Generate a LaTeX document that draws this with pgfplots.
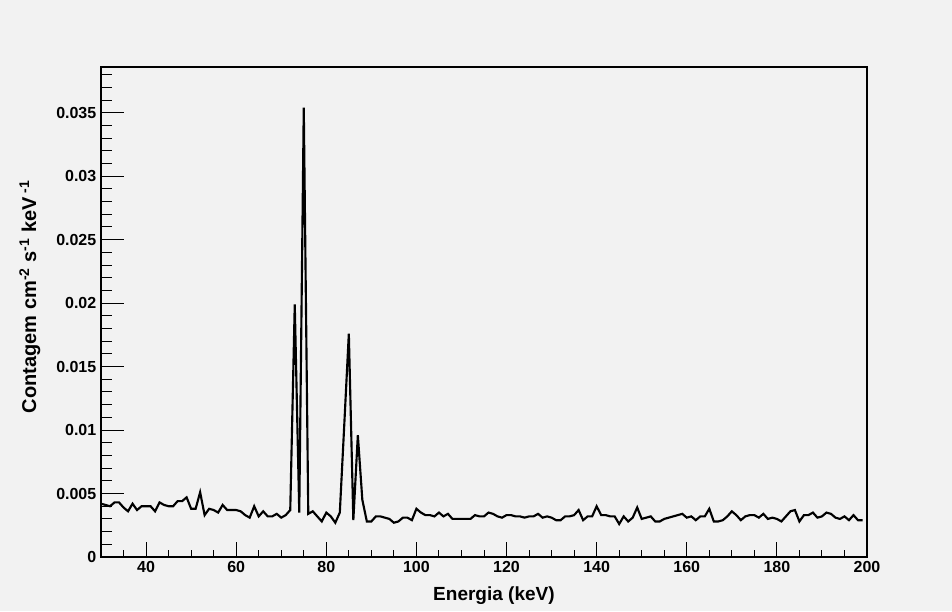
\documentclass[border=0pt]{standalone}
\usepackage{fontspec}
\setmainfont{Liberation Sans}
\usepackage{pgfplots}
\pgfplotsset{compat=1.18}
\usepackage{pgfplotstable}
\definecolor{bggray}{RGB}{242,242,242}

\pgfplotstableread{
x y
30 0.0042
31 0.0041
32 0.0040
33 0.0043
34 0.0043
35 0.0039
36 0.0036
37 0.0042
38 0.0037
39 0.0040
40 0.0040
41 0.0040
42 0.0036
43 0.0043
44 0.0041
45 0.0040
46 0.0040
47 0.0044
48 0.0044
49 0.0047
50 0.0038
51 0.0038
52 0.0051
53 0.0033
54 0.0038
55 0.0037
56 0.0035
57 0.0041
58 0.0037
59 0.0037
60 0.0037
61 0.0036
62 0.0033
63 0.0031
64 0.0040
65 0.0032
66 0.0036
67 0.0032
68 0.0032
69 0.0034
70 0.0031
71 0.0033
72 0.0037
73 0.0199
74 0.0035
75 0.0354
76 0.0034
77 0.0036
78 0.0032
79 0.0028
80 0.0035
81 0.0032
82 0.0027
83 0.0035
84 0.0105
85 0.0176
86 0.0029
87 0.0096
88 0.0045
89 0.0028
90 0.0028
91 0.0032
92 0.0032
93 0.0031
94 0.0030
95 0.0027
96 0.0028
97 0.0031
98 0.0031
99 0.0029
100 0.0038
101 0.0035
102 0.0033
103 0.0033
104 0.0032
105 0.0035
106 0.0032
107 0.0034
108 0.0030
109 0.0030
110 0.0030
111 0.0030
112 0.0030
113 0.0033
114 0.0032
115 0.0032
116 0.0035
117 0.0034
118 0.0032
119 0.0031
120 0.0033
121 0.0033
122 0.0032
123 0.0032
124 0.0031
125 0.0032
126 0.0032
127 0.0034
128 0.0031
129 0.0032
130 0.0031
131 0.0029
132 0.0029
133 0.0032
134 0.0032
135 0.0033
136 0.0037
137 0.0029
138 0.0032
139 0.0032
140 0.0040
141 0.0033
142 0.0033
143 0.0032
144 0.0032
145 0.0026
146 0.0032
147 0.0028
148 0.0031
149 0.0039
150 0.0030
151 0.0031
152 0.0032
153 0.0028
154 0.0028
155 0.0030
156 0.0031
157 0.0032
158 0.0033
159 0.0034
160 0.0031
161 0.0032
162 0.0029
163 0.0032
164 0.0032
165 0.0038
166 0.0028
167 0.0028
168 0.0029
169 0.0032
170 0.0036
171 0.0033
172 0.0029
173 0.0032
174 0.0033
175 0.0033
176 0.0031
177 0.0034
178 0.0030
179 0.0031
180 0.0030
181 0.0028
182 0.0032
183 0.0036
184 0.0037
185 0.0028
186 0.0033
187 0.0033
188 0.0035
189 0.0031
190 0.0032
191 0.0035
192 0.0034
193 0.0031
194 0.0030
195 0.0032
196 0.0029
197 0.0033
198 0.0029
199 0.0029
}\spectrum

\begin{document}
\begin{tikzpicture}
\fill[bggray] (0,0) rectangle (714pt,458.25pt);
\begin{axis}[
  at={(75.75pt,40.5pt)}, anchor=south west,
  scale only axis, width=574.5pt, height=367.5pt,
  xmin=30, xmax=200, ymin=0, ymax=0.0386,
  axis line style={black, line width=0.9pt},
  tick pos=left, tick align=inside,
  scaled y ticks=false, scaled x ticks=false,
  xtick={40,60,...,200},
  minor xtick={35,45,50,55,65,70,75,85,90,95,105,110,115,125,130,135,145,150,155,165,170,175,185,190,195},
  ytick={0,0.005,0.01,0.015,0.02,0.025,0.03,0.035},
  yticklabels={0,0.005,0.01,0.015,0.02,0.025,0.03,0.035},
  minor ytick={0.001,0.002,0.003,0.004,0.006,0.007,0.008,0.009,0.011,0.012,0.013,0.014,0.016,0.017,0.018,0.019,0.021,0.022,0.023,0.024,0.026,0.027,0.028,0.029,0.031,0.032,0.033,0.034,0.036,0.037,0.038},
  major tick length=17.25pt, minor tick length=8.6pt,
  xtick style={/pgfplots/major tick length=11pt,/pgfplots/minor tick length=5.5pt},
  every tick/.style={black, line width=0.75pt},
  /pgf/number format/assume math mode=true,
  tick label style={font=\bfseries\fontsize{12}{12}\selectfont},
  x tick label style={/pgf/number format/1000 sep={}},
  xlabel={Energia (keV)},
  ylabel={Contagem cm\textsuperscript{-2} s\textsuperscript{-1} keV\,\textsuperscript{-1}},
  label style={font=\bfseries\fontsize{14.25}{14.25}\selectfont},
  xlabel style={at={(axis description cs:0.513,-0.078)}, anchor=center},
  ylabel style={at={(axis description cs:-0.093,0.531)}, anchor=center, font=\bfseries\fontsize{15}{15}\selectfont},
  clip=true,
]
\addplot[black, line width=1.6pt, sharp plot, mark=none] table[x=x,y=y] {\spectrum};
\end{axis}
\end{tikzpicture}
\end{document}
